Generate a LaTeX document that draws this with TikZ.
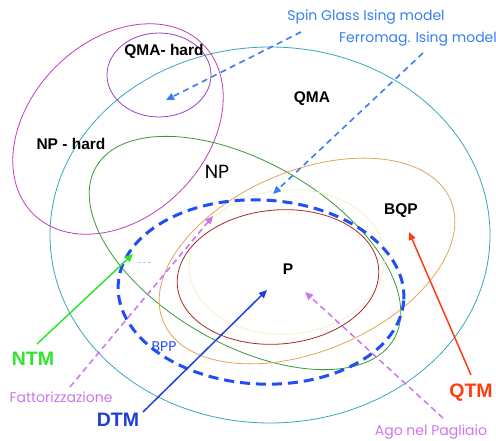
\documentclass[tikz,border=0pt]{standalone}
\usepackage{fontspec}
\usetikzlibrary{arrows.meta}
\newfontfamily\geo{Poppins}
\newfontfamily\hel{Liberation Sans}
\definecolor{cqma}{HTML}{3AA6BC}
\definecolor{cnph}{HTML}{C23EB4}
\definecolor{cqmah}{HTML}{9B3FC9}
\definecolor{cnp}{HTML}{3A9A3A}
\definecolor{cbqp}{HTML}{E2A45A}
\definecolor{cp}{HTML}{A52A2A}
\definecolor{cbpp}{HTML}{1F4EF5}
\definecolor{cising}{HTML}{3A7FF2}
\definecolor{cntm}{HTML}{2EE62E}
\definecolor{cdtm}{HTML}{1F3FD6}
\definecolor{cqtm}{HTML}{FF3C14}
\definecolor{cviol}{HTML}{CC77EE}
\definecolor{cfaint}{HTML}{F4F0CC}
\tikzset{
  cls/.style={line width=0.8pt},
  boldlab/.style={font=\hel\bfseries\fontsize{15.5}{17}\selectfont, inner sep=0pt},
  machlab/.style={font=\hel\bfseries\fontsize{19.5}{21}\selectfont, inner sep=0pt},
  geolab/.style={font=\geo\fontsize{14}{16}\selectfont, inner sep=0pt},
  tip/.style={-{Triangle[length=8pt,width=7pt]}},
  isingarrow/.style={tip, cising, line width=1.6pt, dash pattern=on 6pt off 4.5pt},
  violarrow/.style={tip, cviol, line width=1.5pt, dash pattern=on 6pt off 4pt},
  solidarrow/.style={tip, line width=1.5pt},
}
\begin{document}
\begin{tikzpicture}[x=1pt,y=-1pt]
\useasboundingbox[fill=white] (0,0) rectangle (496,441);
% class regions
\draw[cls, cqma] (270,235) ellipse [x radius=220pt, y radius=188pt];
\draw[cls, cnph] (118,129) ellipse [x radius=120pt, y radius=88pt, rotate=45];
\draw[cls, cqmah] (159,75) ellipse [x radius=52pt, y radius=42pt];
\draw[cls, cnp] (245,253) ellipse [x radius=172pt, y radius=91pt, rotate=-30];
\draw[cls, cbqp] (307,261) ellipse [x radius=156pt, y radius=90pt, rotate=23];
\draw[cls, cfaint] (287,262) ellipse [x radius=98pt, y radius=72pt, rotate=5];
\draw[cls, cp] (278,277) ellipse [x radius=101pt, y radius=67pt, rotate=5];
\draw[cbpp, line width=3pt, dash pattern=on 10pt off 6pt] (261,292) ellipse [x radius=143pt, y radius=92pt, rotate=-3];
\draw[gray!45, line width=0.6pt, dash pattern=on 2.5pt off 2.5pt] (138,262) -- (153,262);
% labels
\node[boldlab] (qmah) at (164,51) {QMA- hard};
\node[boldlab] (nph) at (71,144) {NP - hard};
\node[boldlab] (qma) at (312,99) {QMA};
\node[boldlab] (bqp) at (401,211) {BQP};
\node[boldlab] (p) at (288,269) {P};
\node[font=\geo\fontsize{19}{21}\selectfont, inner sep=0pt] (np) at (217,172) {NP};
\node[geolab, cbpp] (bpp) at (164,347) {BPP};
\node[geolab, cising] (spin) at (366,17) {Spin Glass Ising model};
\node[geolab, cising] (ferro) at (418,39) {Ferromag. Ising model};
\node[geolab, cviol] (fatt) at (61,397) {Fattorizzazione};
\node[geolab, cviol] (ago) at (431,432) {Ago nel Pagliaio};
\node[machlab, cntm] (ntm) at (33,359) {NTM};
\node[machlab, cdtm] (dtm) at (118,420) {DTM};
\node[machlab, cqtm] (qtm) at (471,393) {QTM};
% arrow end points
\coordinate (spinS) at (301,32);
\coordinate (spinE) at (166,100);
\coordinate (ferroS) at (423,53);
\coordinate (ferroE) at (273,194);
\coordinate (fattS) at (70,387);
\coordinate (fattE) at (213,216);
\coordinate (agoS) at (443,418);
\coordinate (agoE) at (305,292);
\coordinate (ntmS) at (37,344);
\coordinate (ntmE) at (133,254);
\coordinate (dtmS) at (143,412);
\coordinate (dtmE) at (267,290);
\coordinate (qtmS) at (471,375);
\coordinate (qtmE) at (409,232);
% arrows
\draw[isingarrow] (spinS) -- (spinE);
\draw[isingarrow] (ferroS) -- (ferroE);
\draw[violarrow] (fattS) -- (fattE);
\draw[violarrow] (agoS) -- (agoE);
\draw[solidarrow, cntm] (ntmS) -- (ntmE);
\draw[solidarrow, cdtm] (dtmS) -- (dtmE);
\draw[solidarrow, cqtm] (qtmS) -- (qtmE);
\end{tikzpicture}
\end{document}
